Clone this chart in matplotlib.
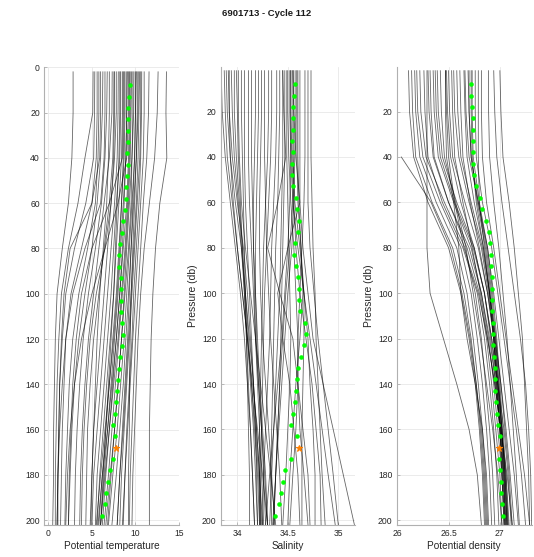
import numpy as np
import matplotlib
matplotlib.use("Agg")
import matplotlib.pyplot as plt

plt.rcParams['font.family'] = ['Liberation Sans', 'DejaVu Sans']

TITLE = "6901713 - Cycle 112"

# pressure levels of the historical profiles (db)
P_HIST = [2, 20, 40, 60, 80, 100, 120, 140, 160, 180, 202]

# historical potential temperature profiles
TEMP_HIST = [
    [2.84, 2.84, 2.7, 2.3, 1.6, 1.0, 0.8, 0.7, 0.6, 0.6, 0.5],
    [5.14, 5.1, 4.2, 3.4, 2.3, 1.5, 1.2, 1.0, 0.9, 0.8, 0.8],
    [5.33, 5.3, 5.2, 4.3, 3.0, 2.0, 1.6, 1.3, 1.2, 1.1, 1.0],
    [5.6, 5.6, 5.5, 5.0, 3.8, 2.6, 2.0, 1.8, 1.6, 1.5, 1.4],
    [5.8, 5.8, 5.7, 5.4, 4.5, 3.5, 2.8, 2.4, 2.2, 2.0, 1.9],
    [6.26, 6.2, 6.0, 5.6, 5.0, 4.2, 3.5, 3.0, 2.7, 2.5, 2.3],
    [6.76, 6.7, 6.5, 6.1, 5.4, 4.6, 4.0, 3.6, 3.3, 3.1, 3.0],
    [7.33, 7.3, 7.0, 6.4, 5.8, 5.2, 4.6, 4.2, 3.9, 3.7, 3.6],
    [7.53, 7.5, 7.4, 7.0, 6.4, 5.8, 5.2, 4.8, 4.5, 4.4, 4.3],
    [7.8, 7.8, 7.6, 7.2, 6.8, 6.4, 6.0, 5.6, 5.2, 5.0, 4.8],
    [8.03, 8.0, 7.9, 7.6, 7.2, 6.8, 6.4, 6.0, 5.6, 5.2, 5.0],
    [8.3, 8.3, 8.2, 7.8, 7.5, 7.2, 6.8, 6.4, 6.0, 5.6, 5.4],
    [8.49, 8.5, 8.4, 8.1, 7.8, 7.5, 7.1, 6.7, 6.3, 5.9, 5.6],
    [8.8, 8.8, 8.7, 8.4, 8.1, 7.8, 7.4, 7.0, 6.6, 6.2, 5.8],
    [9.07, 9.0, 8.9, 8.6, 8.3, 8.0, 7.6, 7.2, 6.8, 6.4, 6.0],
    [9.33, 9.3, 9.2, 9.0, 8.6, 8.2, 7.8, 7.4, 7.0, 6.6, 6.2],
    [9.56, 9.5, 9.4, 9.2, 8.9, 8.5, 8.1, 7.7, 7.3, 6.9, 6.4],
    [9.83, 9.8, 9.6, 9.3, 9.0, 8.7, 8.4, 8.0, 7.6, 7.1, 6.6],
    [10.1, 10.0, 9.9, 9.6, 9.3, 9.0, 8.7, 8.3, 7.9, 7.4, 6.9],
    [10.33, 10.3, 10.1, 9.8, 9.5, 9.2, 8.9, 8.6, 8.2, 7.8, 7.3],
    [10.48, 10.4, 10.3, 10.1, 9.8, 9.5, 9.2, 8.9, 8.6, 8.2, 7.9],
    [10.72, 10.7, 10.6, 10.4, 10.1, 9.8, 9.6, 9.3, 9.0, 8.8, 8.5],
    [11.56, 11.5, 11.3, 10.9, 10.6, 10.3, 10.0, 9.8, 9.6, 9.4, 9.3],
    [12.6, 12.5, 12.2, 11.6, 11.0, 10.6, 10.3, 10.1, 9.9, 9.7, 9.6],
    [13.56, 13.5, 13.6, 12.8, 12.3, 12.0, 11.8, 11.7, 11.6, 11.6, 11.6],
    [6.0, 6.0, 5.9, 5.0, 2.5, 1.8, 1.5, 1.3, 1.2, 1.1, 1.1],
    [8.6, 8.6, 8.5, 7.0, 5.0, 3.8, 3.2, 2.8, 2.6, 2.4, 2.3],
    [9.2, 9.2, 9.0, 8.0, 6.5, 5.5, 4.8, 4.4, 4.1, 3.9, 3.8],
    [7.0, 7.0, 6.9, 6.7, 6.3, 5.9, 5.6, 5.4, 5.2, 5.0, 4.9],
    [10.0, 10.0, 9.9, 9.7, 9.5, 9.3, 9.1, 8.8, 8.5, 8.2, 7.9],
    [8.2, 8.2, 8.1, 7.9, 7.7, 7.5, 7.2, 6.9, 6.6, 6.3, 6.0],
    [9.7, 9.7, 9.6, 9.5, 9.2, 8.8, 8.4, 8.0, 7.6, 7.2, 6.8],
    [9.4, 9.4, 9.3, 9.1, 8.8, 8.4, 8.0, 7.5, 7.0, 6.5, 6.0],
    [9.0, 9.0, 8.9, 8.7, 8.5, 8.2, 7.8, 7.3, 6.8, 6.2, 5.7],
    [8.7, 8.7, 8.6, 8.4, 8.2, 7.9, 7.5, 7.0, 6.5, 6.0, 5.5],
    [10.6, 10.6, 10.5, 10.2, 9.9, 9.6, 9.3, 9.0, 8.7, 8.4, 8.2],
    [11.0, 11.0, 10.9, 10.6, 10.3, 10.0, 9.7, 9.4, 9.1, 8.8, 8.6],
    [7.6, 7.6, 7.5, 7.2, 6.5, 5.0, 3.8, 3.0, 2.5, 2.2, 2.0],
    [6.5, 6.5, 6.4, 6.0, 4.2, 2.8, 2.0, 1.6, 1.3, 1.1, 1.0],
    [10.2, 10.2, 10.1, 9.9, 9.7, 9.5, 9.4, 9.3, 9.3, 9.2, 9.2],
]

# historical salinity profiles
SAL_HIST = [
    [33.84, 33.85, 33.88, 33.93, 33.98, 34.03, 34.07, 34.10, 34.13, 34.15, 34.17],
    [33.87, 33.88, 33.90, 33.95, 34.00, 34.05, 34.10, 34.14, 34.18, 34.21, 34.23],
    [33.89, 33.90, 33.93, 33.98, 34.04, 34.08, 34.12, 34.16, 34.19, 34.22, 34.25],
    [33.91, 33.92, 33.95, 34.00, 34.06, 34.10, 34.13, 34.16, 34.19, 34.22, 34.24],
    [33.94, 33.95, 33.97, 34.01, 34.04, 34.07, 34.10, 34.13, 34.16, 34.18, 34.20],
    [33.97, 33.97, 33.99, 34.02, 34.05, 34.08, 34.11, 34.14, 34.17, 34.20, 34.22],
    [33.99, 34.00, 34.01, 34.03, 34.05, 34.07, 34.09, 34.11, 34.13, 34.15, 34.17],
    [34.04, 34.04, 34.05, 34.06, 34.07, 34.08, 34.09, 34.10, 34.11, 34.12, 34.12],
    [34.07, 34.07, 34.07, 34.08, 34.10, 34.12, 34.14, 34.16, 34.18, 34.19, 34.20],
    [34.11, 34.11, 34.11, 34.12, 34.14, 34.16, 34.18, 34.21, 34.24, 34.26, 34.28],
    [34.14, 34.14, 34.14, 34.15, 34.16, 34.18, 34.20, 34.22, 34.25, 34.28, 34.30],
    [34.18, 34.18, 34.17, 34.16, 34.16, 34.17, 34.18, 34.20, 34.22, 34.24, 34.26],
    [34.21, 34.21, 34.20, 34.19, 34.18, 34.18, 34.19, 34.21, 34.24, 34.27, 34.30],
    [34.24, 34.24, 34.23, 34.22, 34.22, 34.23, 34.25, 34.28, 34.31, 34.34, 34.37],
    [34.27, 34.27, 34.27, 34.28, 34.29, 34.31, 34.33, 34.36, 34.39, 34.42, 34.44],
    [34.31, 34.31, 34.30, 34.28, 34.26, 34.25, 34.24, 34.23, 34.22, 34.22, 34.22],
    [34.34, 34.34, 34.33, 34.31, 34.29, 34.27, 34.26, 34.25, 34.24, 34.23, 34.23],
    [34.39, 34.39, 34.38, 34.36, 34.34, 34.33, 34.32, 34.30, 34.28, 34.26, 34.25],
    [34.42, 34.42, 34.41, 34.40, 34.38, 34.37, 34.36, 34.35, 34.34, 34.33, 34.34],
    [34.45, 34.45, 34.45, 34.44, 34.43, 34.42, 34.40, 34.38, 34.36, 34.34, 34.32],
    [34.47, 34.47, 34.47, 34.46, 34.45, 34.44, 34.43, 34.42, 34.40, 34.38, 34.36],
    [34.49, 34.49, 34.49, 34.50, 34.51, 34.52, 34.53, 34.52, 34.50, 34.48, 34.45],
    [34.50, 34.50, 34.51, 34.53, 34.56, 34.58, 34.60, 34.60, 34.58, 34.55, 34.52],
    [34.52, 34.52, 34.53, 34.55, 34.60, 34.66, 34.72, 34.78, 34.84, 34.90, 34.97],
    [34.53, 34.53, 34.54, 34.56, 34.58, 34.62, 34.68, 34.74, 34.78, 34.82, 34.83],
    [34.55, 34.55, 34.55, 34.57, 34.62, 34.66, 34.70, 34.72, 34.75, 34.77, 34.77],
    [34.59, 34.59, 34.59, 34.60, 34.63, 34.66, 34.66, 34.65, 34.64, 34.64, 34.64],
    [34.62, 34.62, 34.62, 34.62, 34.65, 34.70, 34.75, 34.85, 34.95, 35.05, 35.16],
    [34.67, 34.67, 34.67, 34.66, 34.64, 34.62, 34.60, 34.60, 34.62, 34.66, 34.70],
    [34.70, 34.70, 34.70, 34.70, 34.72, 34.76, 34.80, 34.85, 34.90, 34.95, 35.00],
    [34.73, 34.73, 34.73, 34.74, 34.75, 34.77, 34.78, 34.80, 34.82, 34.84, 34.87],
    [34.55, 34.56, 34.58, 34.62, 34.50, 34.40, 34.45, 34.52, 34.56, 34.60, 34.62],
    [34.45, 34.46, 34.48, 34.40, 34.30, 34.42, 34.55, 34.60, 34.65, 34.70, 34.72],
    [34.56, 34.56, 34.56, 34.55, 34.52, 34.48, 34.45, 34.42, 34.40, 34.38, 34.36],
    [34.58, 34.58, 34.57, 34.56, 34.54, 34.50, 34.47, 34.44, 34.41, 34.38, 34.35],
    [34.53, 34.53, 34.53, 34.52, 34.50, 34.47, 34.44, 34.40, 34.36, 34.32, 34.28],
    [33.92, 33.92, 33.93, 33.96, 34.00, 34.05, 34.10, 34.15, 34.20, 34.25, 34.30],
    [34.60, 34.60, 34.60, 34.61, 34.63, 34.65, 34.62, 34.58, 34.55, 34.52, 34.50],
    [34.01, 34.01, 34.02, 34.04, 34.08, 34.13, 34.18, 34.23, 34.28, 34.33, 34.38],
]

# historical potential density profiles
DENS_HIST = [
    [26.11, 26.12, 26.16, 26.30, 26.50, 26.62, 26.70, 26.76, 26.80, 26.83, 26.85],
    [26.14, 26.15, 26.18, 26.34, 26.54, 26.65, 26.72, 26.77, 26.81, 26.84, 26.86],
    [26.17, 26.18, 26.22, 26.38, 26.58, 26.68, 26.74, 26.79, 26.83, 26.86, 26.88],
    [26.19, 26.20, 26.25, 26.42, 26.62, 26.72, 26.78, 26.83, 26.87, 26.90, 26.92],
    [26.22, 26.23, 26.28, 26.46, 26.66, 26.76, 26.82, 26.86, 26.90, 26.93, 26.95],
    [26.26, 26.27, 26.30, 26.44, 26.64, 26.78, 26.85, 26.90, 26.94, 26.97, 26.99],
    [26.29, 26.29, 26.29, 26.29, 26.29, 26.32, 26.45, 26.58, 26.70, 26.78, 26.82],
    [26.32, 26.33, 26.36, 26.50, 26.68, 26.80, 26.87, 26.92, 26.96, 27.00, 27.02],
    [26.35, 26.36, 26.40, 26.55, 26.72, 26.82, 26.89, 26.94, 26.98, 27.02, 27.05],
    [26.39, 26.40, 26.44, 26.58, 26.75, 26.85, 26.91, 26.96, 27.00, 27.04, 27.07],
    [26.42, 26.43, 26.46, 26.57, 26.67, 26.74, 26.81, 26.87, 26.93, 26.98, 27.02],
    [26.47, 26.48, 26.50, 26.56, 26.65, 26.79, 26.88, 26.95, 27.01, 27.06, 27.09],
    [26.48, 26.49, 26.52, 26.62, 26.75, 26.85, 26.92, 26.98, 27.04, 27.08, 27.11],
    [26.50, 26.51, 26.54, 26.66, 26.79, 26.88, 26.95, 27.01, 27.06, 27.10, 27.14],
    [26.53, 26.54, 26.56, 26.64, 26.73, 26.81, 26.88, 26.95, 27.01, 27.07, 27.12],
    [26.61, 26.62, 26.64, 26.71, 26.80, 26.88, 26.94, 26.98, 27.02, 27.05, 27.07],
    [26.65, 26.66, 26.68, 26.75, 26.84, 26.90, 26.95, 26.98, 27.01, 27.03, 27.05],
    [26.66, 26.67, 26.70, 26.79, 26.88, 26.94, 26.99, 27.04, 27.09, 27.14, 27.18],
    [26.69, 26.70, 26.72, 26.79, 26.87, 26.92, 26.96, 26.99, 27.02, 27.04, 27.05],
    [26.73, 26.73, 26.74, 26.80, 26.88, 26.93, 26.97, 27.00, 27.03, 27.06, 27.08],
    [26.76, 26.76, 26.77, 26.83, 26.92, 26.98, 27.04, 27.10, 27.16, 27.21, 27.25],
    [26.79, 26.79, 26.79, 26.80, 26.85, 26.90, 26.94, 26.97, 27.00, 27.02, 27.04],
    [26.82, 26.82, 26.83, 26.87, 26.94, 27.00, 27.06, 27.12, 27.18, 27.24, 27.29],
    [26.89, 26.89, 26.90, 26.94, 26.99, 27.03, 27.07, 27.10, 27.13, 27.16, 27.19],
    [26.94, 26.95, 26.97, 27.02, 27.08, 27.14, 27.20, 27.25, 27.28, 27.30, 27.31],
    [27.00, 27.01, 27.03, 27.09, 27.14, 27.18, 27.22, 27.24, 27.26, 27.28, 27.29],
    [np.nan, np.nan, 26.04, 26.33, 26.52, 26.63, 26.71, 26.77, 26.82, 26.85, 26.87],
    [26.47, 26.47, 26.48, 26.55, 26.60, 26.62, 26.68, 26.76, 26.83, 26.87, 26.89],
    [26.72, 26.72, 26.73, 26.77, 26.84, 26.90, 26.94, 26.97, 27.00, 27.02, 27.04],
    [26.70, 26.70, 26.72, 26.78, 26.86, 26.91, 26.95, 26.99, 27.02, 27.05, 27.07],
    [26.55, 26.56, 26.60, 26.70, 26.82, 26.89, 26.94, 26.98, 27.02, 27.05, 27.08],
    [26.58, 26.59, 26.62, 26.72, 26.83, 26.90, 26.96, 27.01, 27.05, 27.09, 27.12],
    [26.30, 26.31, 26.35, 26.50, 26.70, 26.82, 26.90, 26.96, 27.00, 27.03, 27.06],
    [26.37, 26.38, 26.42, 26.56, 26.74, 26.85, 26.92, 26.97, 27.01, 27.04, 27.06],
]

# current cycle
P_CYCLE = [8, 13, 18, 23, 28, 33, 38, 43, 48, 53, 58, 63, 68, 73, 78, 83, 88, 93,
           98, 103, 108, 113, 118, 123, 128, 133, 138, 143, 148, 153, 158, 163,
           168, 173, 178, 183, 188, 193, 198]
TEMP_CYCLE = [9.37, 9.30, 9.20, 9.20, 9.10, 9.10, 9.07, 9.10, 9.07, 8.95, 8.87,
              8.76, 8.60, 8.45, 8.22, 8.07, 8.14, 8.33, 8.30, 8.33, 8.30, 8.49,
              8.57, 8.41, 8.26, 8.14, 7.99, 7.87, 7.80, 7.64, 7.45, 7.68, 7.80,
              7.37, 7.06, 6.83, 6.64, 6.45, 6.18]
SAL_CYCLE = [34.571, 34.565, 34.555, 34.551, 34.551, 34.545, 34.548, 34.545,
             34.545, 34.551, 34.578, 34.591, 34.608, 34.604, 34.575, 34.558,
             34.578, 34.604, 34.614, 34.611, 34.621, 34.670, 34.680, 34.660,
             34.634, 34.601, 34.588, 34.581, 34.575, 34.551, 34.532, 34.591,
             34.608, 34.532, 34.476, 34.452, 34.433, 34.416, 34.377]
DENS_CYCLE = [26.714, 26.721, 26.731, 26.734, 26.737, 26.737, 26.737, 26.740,
              26.747, 26.763, 26.802, 26.822, 26.867, 26.890, 26.900, 26.913,
              26.916, 26.919, 26.919, 26.922, 26.926, 26.929, 26.932, 26.935,
              26.942, 26.948, 26.952, 26.952, 26.961, 26.971, 26.984, 26.997,
              26.991, 26.994, 27.000, 27.007, 27.013, 27.020, 27.033]
# QC flag of each cycle level: 1 = good, 4 = bad
QC_CYCLE = [1] * 32 + [4] + [1] * 6

XLABELS = ["Potential temperature", "Salinity", "Potential density"]
XTICKS = [[0, 5, 10, 15], [34, 34.5, 35], [26, 26.5, 27]]
XTICKLABELS = [["0", "5", "10", "15"], ["34", "34.5", "35"], ["26", "26.5", "27"]]
XLIMS = [(-0.5, 15.0), (33.835, 35.166), (25.995, 27.31)]
YTICKS_1 = [0, 20, 40, 60, 80, 100, 120, 140, 160, 180, 200]
YTICKS_23 = [20, 40, 60, 80, 100, 120, 140, 160, 180, 200]

W, H = 534, 557
fig = plt.figure(figsize=(W / 100, H / 100), dpi=100)
fig.text(0.5, 1 - 13 / H, TITLE, ha='center', va='center', fontsize=6.8,
         fontweight='bold', color='#1a1a1a')

lefts = [44, 220.7, 396.7]
widths = [135, 134.3, 135]
top_px, bot_px = 67.3, 525

hist_sets = [TEMP_HIST, SAL_HIST, DENS_HIST]
cyc_sets = [TEMP_CYCLE, SAL_CYCLE, DENS_CYCLE]

qc = np.array(QC_CYCLE)
pc = np.array(P_CYCLE)
for i in range(3):
    ax = fig.add_axes([lefts[i] / W, 1 - bot_px / H, widths[i] / W,
                       (bot_px - top_px) / H])
    for prof in hist_sets[i]:
        ax.plot(prof, P_HIST, color='k', lw=0.6, alpha=0.6, zorder=2)
    vals = np.array(cyc_sets[i])
    good = qc == 1
    ax.plot(vals[good], pc[good], linestyle='none', marker='o', ms=2.8,
            mfc='#00ff00', mec='#00ff00', mew=0.4, zorder=4)
    ax.plot(vals[~good], pc[~good], linestyle='none', marker='*', ms=4.5,
            mfc='#ff8000', mec='#ff8000', mew=0.8, zorder=4)
    ax.set_xlim(*XLIMS[i])
    if i == 0:
        ax.set_ylim(202.1, 0)
        ax.set_yticks(YTICKS_1)
    else:
        ax.set_ylim(202.1, 0.5)
        ax.set_yticks(YTICKS_23)
        ax.set_ylabel("Pressure (db)", fontsize=7.4, color='#262626', labelpad=3)
    ax.set_xticks(XTICKS[i])
    ax.set_xticklabels(XTICKLABELS[i])
    ax.set_xlabel(XLABELS[i], fontsize=7.2, color='#262626', labelpad=2)
    ax.grid(True, color='#e8e8e8', lw=0.6, zorder=0)
    ax.set_axisbelow(True)
    for s in ['top', 'right']:
        ax.spines[s].set_visible(False)
    for s in ['left', 'bottom']:
        ax.spines[s].set_color('#b0b0b0')
        ax.spines[s].set_linewidth(0.8)
    ax.tick_params(direction='in', length=2.5, width=0.6, color='#b0b0b0',
                   labelsize=6.2, labelcolor='#262626', pad=3)

fig.savefig("out.png", dpi=100)
